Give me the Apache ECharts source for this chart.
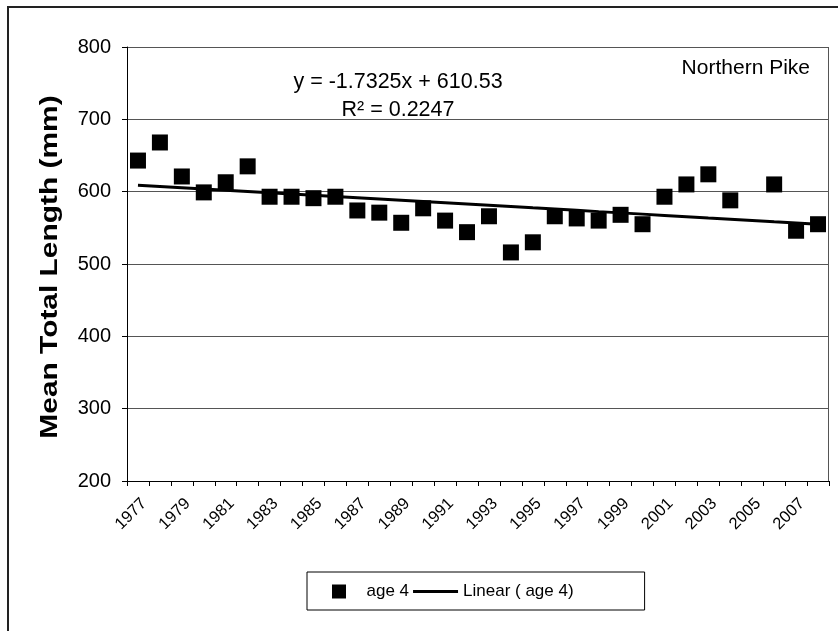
<!DOCTYPE html>
<html>
<head>
<meta charset="utf-8">
<script src="https://cdn.jsdelivr.net/npm/echarts@6/dist/echarts.min.js"></script>
<style>
  html, body { margin: 0; padding: 0; background: #fff; }
  #chart { width: 838px; height: 631px; }
</style>
</head>
<body>
<div id="chart"></div>
<script>
// Sample years (category axis)
const years = [
  '1977', '1978', '1979', '1980', '1981', '1982', '1983', '1984',
  '1985', '1986', '1987', '1988', '1989', '1990', '1991', '1992',
  '1993', '1994', '1995', '1996', '1997', '1998', '1999', '2000',
  '2001', '2002', '2003', '2004', '2005', '2006', '2007', '2008'
];

// Mean total length (mm) of age-4 northern pike; 2005 not sampled
const age4 = [
  643, 668, 621, 599, 613, 635, 593, 593,
  591, 593, 574, 571, 557, 577, 560, 544,
  566, 516, 530, 566, 563, 560, 568, 555,
  593, 610, 624, 588, null, 610, 546, 555
];

// Linear trend fitted over the category index (x = 1, 2, ...)
const trendSlope = -1.7325;
const trendIntercept = 610.53;
const trendR2 = 0.2247;

// Value axis range
const yMin = 200;
const yMax = 800;
const yStep = 100;

const trend = years.map((_, i) => +(trendSlope * (i + 1) + trendIntercept).toFixed(2));

const FONT = "'Liberation Sans', Arial, sans-serif";

const chart = echarts.init(document.getElementById('chart'), null, { renderer: 'canvas' });

chart.setOption({
  backgroundColor: '#fff',
  animation: false,
  grid: { left: 127, right: 9, top: 47, bottom: 150 },
  xAxis: {
    type: 'category',
    data: years,
    boundaryGap: true,
    axisLine: { lineStyle: { color: '#000', width: 1 } },
    axisTick: { show: true, interval: 0, length: 5, lineStyle: { color: '#000' } },
    axisLabel: {
      interval: 1, rotate: 45, margin: 14, verticalAlign: 'top',
      fontFamily: FONT, fontSize: 16.5, color: '#000'
    },
    splitLine: { show: false }
  },
  yAxis: {
    type: 'value',
    min: yMin, max: yMax, interval: yStep,
    axisLine: { show: true, lineStyle: { color: '#000', width: 1 } },
    axisTick: { show: true, length: 5, lineStyle: { color: '#000' } },
    axisLabel: { margin: 16, fontFamily: FONT, fontSize: 20, color: '#000' },
    splitLine: { show: true, lineStyle: { color: '#555', width: 1 } }
  },
  legend: {
    left: 307, top: 572,
    padding: [11, 71, 10, 25],
    borderColor: '#000', borderWidth: 1,
    itemWidth: 45, itemHeight: 14, itemGap: 4,
    symbolKeepAspect: true,
    textStyle: { fontFamily: FONT, fontSize: 17, color: '#000' },
    data: [
      { name: 'age 4', icon: 'path://M0 0H10V10H0Z' },
      { name: 'Linear ( age 4)', icon: 'path://M0 0H45V3H0Z' }
    ]
  },
  series: [
    {
      name: 'Linear ( age 4)',
      type: 'line',
      data: trend,
      symbol: 'none',
      lineStyle: { color: '#000', width: 3 },
      itemStyle: { color: '#000' },
      z: 2
    },
    {
      name: 'age 4',
      type: 'scatter',
      data: age4,
      symbol: 'rect',
      symbolSize: 16,
      itemStyle: { color: '#000', opacity: 1 },
      z: 3
    }
  ],
  graphic: [
    {
      type: 'rect',
      shape: { x: 8, y: 7, width: 900, height: 700 },
      style: { fill: null, stroke: '#222', lineWidth: 2 },
      silent: true, z: -1
    },
    {
      type: 'line',
      shape: { x1: 828.5, y1: 47, x2: 828.5, y2: 481 },
      style: { stroke: '#555', lineWidth: 1 },
      silent: true
    },
    {
      // value axis title
      type: 'text',
      x: 51, y: 267,
      rotation: Math.PI / 2,
      scaleX: 1.3,
      style: {
        text: 'Mean Total Length (mm)',
        fontFamily: FONT, fontSize: 23, fontWeight: 'bold', fill: '#000',
        align: 'center', verticalAlign: 'middle'
      }
    },
    {
      type: 'text',
      x: 398, y: 82,
      style: {
        text: 'y = ' + trendSlope + 'x + ' + trendIntercept,
        fontFamily: FONT, fontSize: 21.5, fill: '#000',
        align: 'center', verticalAlign: 'middle'
      }
    },
    {
      type: 'text',
      x: 398, y: 110,
      style: {
        text: 'R² = ' + trendR2,
        fontFamily: FONT, fontSize: 21.5, fill: '#000',
        align: 'center', verticalAlign: 'middle'
      }
    },
    {
      type: 'text',
      x: 810, y: 68,
      style: {
        text: 'Northern Pike',
        fontFamily: FONT, fontSize: 21, fill: '#000',
        align: 'right', verticalAlign: 'middle'
      }
    }
  ]
});
</script>
</body>
</html>
